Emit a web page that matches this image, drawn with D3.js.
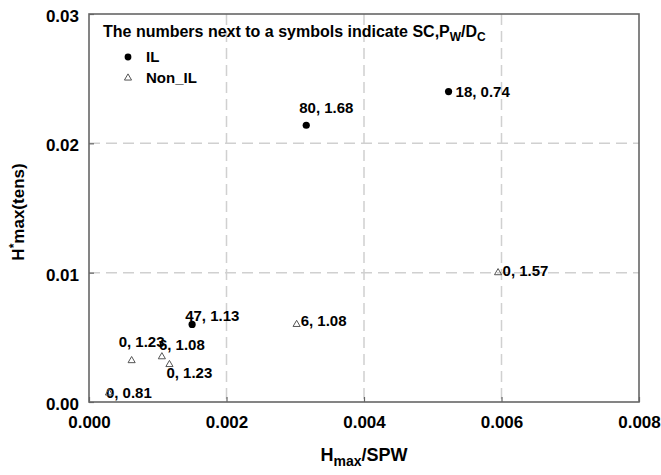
<!DOCTYPE html>
<html><head><meta charset="utf-8">
<script src="https://cdn.jsdelivr.net/npm/d3@7/dist/d3.min.js"></script>
<style>body{margin:0;background:#fff;} text{font-family:"Liberation Sans",Arial,sans-serif;font-weight:bold;fill:#000;}</style>
</head><body>
<svg id="c" width="661" height="475"></svg>
<script>
const xTicks = [0, 0.002, 0.004, 0.006, 0.008];
const yTicks = [0, 0.01, 0.02, 0.03];
const ilX = [0.00316, 0.00523, 0.00150];
const ilY = [0.0214, 0.0240, 0.0060];
const ilLabels = ["80, 1.68", "18, 0.74", "47, 1.13"];
const nonX = [0.00595, 0.00302, 0.00062, 0.00106, 0.00117, 0.00029];
const nonY = [0.0100, 0.0060, 0.0032, 0.0035, 0.0029, 0.0007];
const nonLabels = ["0, 1.57", "6, 1.08", "0, 1.23", "6, 1.08", "0, 1.23", "0, 0.81"];
// label placement offsets (layout only)
const ilOffsets = [[-7,-12],[7,5],[-7,-3.5]];
const nonOffsets = [[4.5,3],[4,2],[-13,-14],[-3,-6.7],[-3,14],[-3,5]];

const svg = d3.select("#c");
const L = 89, R = 639, T = 14, B = 402;
const x = d3.scaleLinear().domain([0, 0.008]).range([L, R]);
const y = d3.scaleLinear().domain([0, 0.03]).range([B, T]);

// grid
svg.append("g").selectAll("line").data(xTicks.filter(d => d > 0 && d < 0.008)).join("line")
  .attr("x1", d => x(d)).attr("x2", d => x(d)).attr("y1", T).attr("y2", B)
  .attr("stroke", "#d0d0d0").attr("stroke-width", 1.5).attr("stroke-dasharray", "11,6");
svg.append("g").selectAll("line").data(yTicks.filter(d => d > 0 && d < 0.03)).join("line")
  .attr("y1", d => y(d)).attr("y2", d => y(d)).attr("x1", L).attr("x2", R)
  .attr("stroke", "#d0d0d0").attr("stroke-width", 1.5).attr("stroke-dasharray", "11,6");

// axes
const xAxis = svg.append("g").attr("transform", `translate(0,${B})`)
  .call(d3.axisBottom(x).tickValues(xTicks).tickFormat(d3.format(".3f")).tickSizeInner(-5).tickSizeOuter(0).tickPadding(14));
const yAxis = svg.append("g").attr("transform", `translate(${L},0)`)
  .call(d3.axisLeft(y).tickValues(yTicks).tickFormat(d3.format(".2f")).tickSizeInner(-5).tickSizeOuter(0).tickPadding(10));
[xAxis, yAxis].forEach(g => {
  g.select(".domain").remove();
  g.selectAll(".tick line").attr("stroke", "#666").attr("stroke-width", 1.2);
  g.selectAll("text").attr("font-size", 17).attr("font-family", "Liberation Sans, Arial, sans-serif").attr("font-weight", "bold").attr("fill", "#000");
});
yAxis.selectAll("text").attr("dy", "0.45em");

// frame
svg.append("rect").attr("x", L).attr("y", T).attr("width", R - L).attr("height", B - T)
  .attr("fill", "none").attr("stroke", "#666").attr("stroke-width", 1.6);

// points
const ilData = ilX.map((v, i) => ({x: v, y: ilY[i], label: ilLabels[i], off: ilOffsets[i]}));
const nonData = nonX.map((v, i) => ({x: v, y: nonY[i], label: nonLabels[i], off: nonOffsets[i]}));
const tri = d3.symbol().type(d3.symbolTriangle).size(22);

svg.append("g").selectAll("text").data(ilData.concat(nonData)).join("text")
  .attr("x", d => x(d.x) + d.off[0]).attr("y", d => y(d.y) + d.off[1])
  .attr("font-size", 15).text(d => d.label);

svg.append("g").selectAll("circle").data(ilData).join("circle")
  .attr("cx", d => x(d.x)).attr("cy", d => y(d.y)).attr("r", 3.6).attr("fill", "#000");
svg.append("g").selectAll("path").data(nonData).join("path")
  .attr("d", tri).attr("transform", d => `translate(${x(d.x)},${y(d.y)})`)
  .attr("fill", "none").attr("stroke", "#555").attr("stroke-width", 1);

// annotation
const ann = svg.append("text").attr("x", 103).attr("y", 37).attr("font-size", 16);
ann.append("tspan").text("The numbers next to a symbols indicate SC,P");
ann.append("tspan").attr("font-size", 12).attr("dy", 4).text("W");
ann.append("tspan").attr("dy", -4).text("/D");
ann.append("tspan").attr("font-size", 12).attr("dy", 4).text("C");

// legend
svg.append("circle").attr("cx", 128).attr("cy", 57).attr("r", 3.4).attr("fill", "#000");
svg.append("text").attr("x", 146).attr("y", 62).attr("font-size", 15).text("IL");
svg.append("path").attr("d", tri).attr("transform", "translate(128,78)")
  .attr("fill", "none").attr("stroke", "#555").attr("stroke-width", 1);
svg.append("text").attr("x", 146).attr("y", 83).attr("font-size", 15).text("Non_IL");

// axis titles
const xt = svg.append("text").attr("x", (L + R) / 2).attr("y", 461).attr("text-anchor", "middle").attr("font-size", 18);
xt.append("tspan").text("H");
xt.append("tspan").attr("font-size", 14).attr("dy", 5).text("max");
xt.append("tspan").attr("dy", -5).text("/SPW");

const yt = svg.append("text").attr("transform", `translate(24,${(T + B) / 2 + 4}) rotate(-90)`).attr("text-anchor", "middle").attr("font-size", 17);
yt.append("tspan").text("H");
yt.append("tspan").attr("font-size", 12).attr("dy", -6).text("*");
yt.append("tspan").attr("dy", 6).text("max(tens)");
</script>
</body></html>
